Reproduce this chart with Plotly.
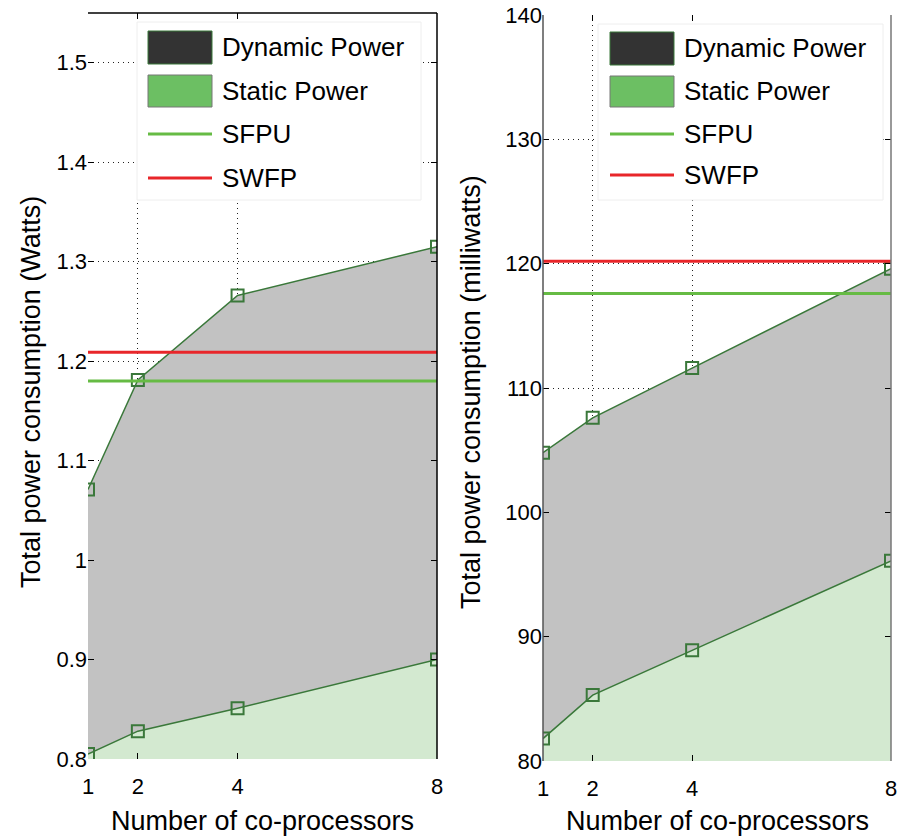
import plotly.graph_objects as go

# Co-processor counts on the x axis
cores = [1, 2, 4, 8]

# Left panel: power in Watts
static_w = [0.805, 0.828, 0.851, 0.900]
total_w = [1.071, 1.181, 1.266, 1.315]
sfpu_w = 1.180
swfp_w = 1.209

# Right panel: power in milliwatts
static_mw = [81.8, 85.3, 88.9, 96.1]
total_mw = [104.8, 107.6, 111.6, 119.6]
sfpu_mw = 117.6
swfp_mw = 120.2

legend_names = ["Dynamic Power", "Static Power", "SFPU", "SWFP"]

W, H = 898, 838
FONT = "Liberation Sans"

C_LINE = "#3a783a"
C_STATIC_FILL = "#d3e9d0"
C_DYN_FILL = "#c2c2c2"
C_SFPU = "#66bb44"
C_SWFP = "#e8262a"
C_LEG_DYN = "#333333"
C_LEG_STATIC = "#6cbf63"

# Plot areas in pixels: (left, right, top, bottom)
areas = [(88, 437, 13, 759), (543, 891, 15, 761)]


def px_x(p):
    return p / W


def px_y(p):
    return 1 - p / H


fig = go.Figure()

panels = [
    (static_w, total_w, sfpu_w, swfp_w, "x", "y"),
    (static_mw, total_mw, sfpu_mw, swfp_mw, "x2", "y2"),
]

marker = dict(symbol="square-open", size=12, color=C_LINE,
              line=dict(width=2, color=C_LINE))

for static, total, sfpu, swfp, xa, ya in panels:
    fig.add_trace(go.Scatter(
        x=cores, y=static, mode="lines+markers", fill="tozeroy",
        fillcolor=C_STATIC_FILL, line=dict(color=C_LINE, width=1.5),
        marker=marker, xaxis=xa, yaxis=ya, showlegend=False))
    fig.add_trace(go.Scatter(
        x=cores, y=total, mode="lines+markers", fill="tonexty",
        fillcolor=C_DYN_FILL, line=dict(color=C_LINE, width=1.5),
        marker=marker, xaxis=xa, yaxis=ya, showlegend=False))
    fig.add_trace(go.Scatter(
        x=[cores[0], cores[-1]], y=[sfpu, sfpu], mode="lines",
        line=dict(color=C_SFPU, width=3), xaxis=xa, yaxis=ya,
        showlegend=False))
    fig.add_trace(go.Scatter(
        x=[cores[0], cores[-1]], y=[swfp, swfp], mode="lines",
        line=dict(color=C_SWFP, width=3), xaxis=xa, yaxis=ya,
        showlegend=False))

axis_common = dict(
    showline=False, mirror="ticks",
    ticks="inside", ticklen=6, tickcolor="black",
    showgrid=True, gridcolor="#222222", griddash="1px,4px", gridwidth=1,
    zeroline=False, layer="above traces", automargin=False,
    tickfont=dict(family=FONT, size=22, color="black"),
)

(l1, r1, t1, b1), (l2, r2, t2, b2) = areas

fig.update_layout(
    width=W, height=H,
    margin=dict(l=0, r=0, t=0, b=0),
    paper_bgcolor="white", plot_bgcolor="white",
    showlegend=False,
    xaxis=dict(domain=[px_x(l1), px_x(r1)], range=[1, 8],
               tickvals=cores, anchor="y", ticklabelstandoff=12,
               **axis_common),
    yaxis=dict(domain=[px_y(b1), px_y(t1)], range=[0.8, 1.55],
               tickvals=[0.8, 0.9, 1.0, 1.1, 1.2, 1.3, 1.4, 1.5],
               ticktext=["0.8", "0.9", "1", "1.1", "1.2", "1.3", "1.4", "1.5"],
               anchor="x", **axis_common),
    xaxis2=dict(domain=[px_x(l2), px_x(r2)], range=[1, 8],
                tickvals=cores, anchor="y2", ticklabelstandoff=12,
                **axis_common),
    yaxis2=dict(domain=[px_y(b2), px_y(t2)], range=[80, 140],
                tickvals=[80, 90, 100, 110, 120, 130, 140],
                anchor="x2", **axis_common),
)

# Solid frame edges (the other edges come from the dotted grid)
frame_edges = [
    ("x domain", "y domain", 0, 1, 1, 1, "black"),   # left panel top
    ("x domain", "y domain", 1, 0, 1, 1, "black"),   # left panel right
    ("x2 domain", "y2 domain", 0, 0, 0, 1, "#555555"),  # right panel left
    ("x2 domain", "y2 domain", 1, 0, 1, 1, "#777777"),  # right panel right
]
for xr, yr, x0, y0, x1, y1, col in frame_edges:
    fig.add_shape(type="line", xref=xr, yref=yr, x0=x0, y0=y0, x1=x1, y1=y1,
                  line=dict(color=col, width=1.5), layer="above")

# Axis titles
title_font = dict(family=FONT, size=27, color="black")
for cx in [(l1 + r1) / 2, (l2 + r2) / 2]:
    fig.add_annotation(x=px_x(cx), y=px_y(821), xref="paper", yref="paper",
                       text="Number of co-processors", showarrow=False,
                       font=title_font, xanchor="center", yanchor="middle")
for cx, cy, txt in [(31, 392, "Total power consumption (Watts)"),
                    (471, 392, "Total power consumption (milliwatts)")]:
    fig.add_annotation(x=px_x(cx), y=px_y(cy), xref="paper", yref="paper",
                       text=txt, showarrow=False, textangle=-90,
                       font=title_font, xanchor="center", yanchor="middle")

# Legend boxes, drawn in pixel space
legend_specs = [
    dict(box=(137, 421, 22, 200), sw=(148, 212), txt=220,
         rows=[(31, 64), (75, 107), 134, 178]),
    dict(box=(598, 883, 24, 200), sw=(610, 674), txt=682,
         rows=[(32, 65), (76, 107), 134, 175]),
]
leg_font = dict(family=FONT, size=26, color="black")
for spec in legend_specs:
    bx0, bx1, by0, by1 = spec["box"]
    fig.add_shape(type="rect", xref="paper", yref="paper",
                  x0=px_x(bx0), x1=px_x(bx1), y0=px_y(by1), y1=px_y(by0),
                  fillcolor="white", line=dict(color="#eeeeee", width=1),
                  layer="above")
    sx0, sx1 = spec["sw"]
    (d0, d1), (s0, s1), yf, yw = spec["rows"]
    fig.add_shape(type="rect", xref="paper", yref="paper",
                  x0=px_x(sx0), x1=px_x(sx1), y0=px_y(d1), y1=px_y(d0),
                  fillcolor=C_LEG_DYN, line=dict(color=C_LINE, width=1),
                  layer="above")
    fig.add_shape(type="rect", xref="paper", yref="paper",
                  x0=px_x(sx0), x1=px_x(sx1), y0=px_y(s1), y1=px_y(s0),
                  fillcolor=C_LEG_STATIC, line=dict(color="#777777", width=1),
                  layer="above")
    fig.add_shape(type="line", xref="paper", yref="paper",
                  x0=px_x(sx0), x1=px_x(sx1), y0=px_y(yf), y1=px_y(yf),
                  line=dict(color=C_SFPU, width=3), layer="above")
    fig.add_shape(type="line", xref="paper", yref="paper",
                  x0=px_x(sx0), x1=px_x(sx1), y0=px_y(yw), y1=px_y(yw),
                  line=dict(color=C_SWFP, width=3), layer="above")
    centers = [(d0 + d1) / 2, (s0 + s1) / 2, yf, yw]
    for name, cy in zip(legend_names, centers):
        fig.add_annotation(x=px_x(spec["txt"]), y=px_y(cy), xref="paper",
                           yref="paper", text=name, showarrow=False,
                           font=leg_font, xanchor="left", yanchor="middle")

fig.write_html("out.html")
